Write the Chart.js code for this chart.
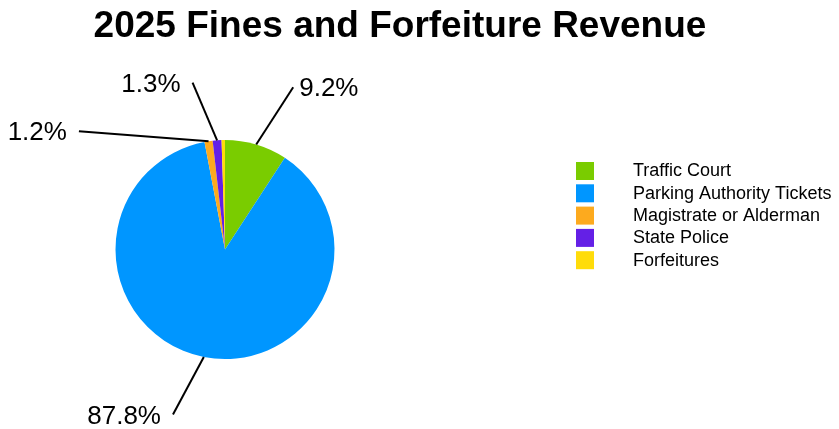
<!DOCTYPE html>
<html>
<head>
<meta charset="utf-8">
<title>2025 Fines and Forfeiture Revenue</title>
<script src="https://cdn.jsdelivr.net/npm/chart.js@4"></script>
<style>
  html, body { margin: 0; padding: 0; background: #fff; }
  #wrap { width: 839px; height: 429px; position: relative; }
</style>
</head>
<body>
<div id="wrap"><canvas id="revenueChart" width="839" height="429"></canvas></div>
<script>
// ---------------- DATA ----------------

const sources = [
    "Traffic Court",
    "Parking Authority Tickets",
    "Magistrate or Alderman",
    "State Police",
    "Forfeitures"
];

const shares = [9.2, 87.8, 1.2, 1.3, 0.5];

const sliceColors = ["#7acc00", "#0096ff", "#fdaa1e", "#6420e6", "#ffdc0a"];

const chartTitle = "2025 Fines and Forfeiture Revenue";

// where each outside label sits: angle (deg, clockwise from top) and distance from centre
const labelSpots = [
    { angle: 22.8, dist: 176 },
    { angle: 197.5, dist: 173 },
    { angle: 309, dist: 188 },
    { angle: 349, dist: 170 },
    null
];

const FONT = "'Liberation Sans', Arial, sans-serif";

// ---------------- PLUGINS ----------------

const titlePlugin = {
    id: "plainTitle",
    afterDraw(chart) {
        const ctx = chart.ctx;
        ctx.save();
        ctx.fillStyle = "#000";
        ctx.font = "bold 37px " + FONT;
        ctx.textAlign = "center";
        ctx.textBaseline = "alphabetic";
        ctx.fillText(chartTitle, 400, 37);
        ctx.restore();
    }
};

const sideLegend = {
    id: "sideLegend",
    afterDraw(chart) {
        const ctx = chart.ctx;
        ctx.save();
        ctx.font = "18px " + FONT;
        ctx.textBaseline = "middle";
        ctx.textAlign = "left";
        sources.forEach((name, i) => {
            const y = 162 + i * 22.3;
            ctx.fillStyle = sliceColors[i];
            ctx.fillRect(576, y, 18, 18);
            ctx.fillStyle = "#000";
            ctx.fillText(name, 633, y + 9.5);
        });
        ctx.restore();
    }
};

const leaderLabels = {
    id: "leaderLabels",
    afterDatasetsDraw(chart) {
        const ctx = chart.ctx;
        const arcs = chart.getDatasetMeta(0).data;
        ctx.save();
        ctx.strokeStyle = "#000";
        ctx.lineWidth = 2;
        ctx.fillStyle = "#000";
        ctx.font = "26px " + FONT;
        ctx.textBaseline = "middle";
        arcs.forEach((arc, i) => {
            const spot = labelSpots[i];
            if (!spot) return;
            const mid = (arc.startAngle + arc.endAngle) / 2;
            const sx = arc.x + Math.cos(mid) * arc.outerRadius;
            const sy = arc.y + Math.sin(mid) * arc.outerRadius;
            const a = (spot.angle - 90) * Math.PI / 180;
            const ex = arc.x + Math.cos(a) * spot.dist;
            const ey = arc.y + Math.sin(a) * spot.dist;
            ctx.beginPath();
            ctx.moveTo(sx, sy);
            ctx.lineTo(ex, ey);
            ctx.stroke();
            const text = shares[i].toFixed(1) + "%";
            if (ex >= arc.x) {
                ctx.textAlign = "left";
                ctx.fillText(text, ex + 6, ey + 2);
            } else {
                ctx.textAlign = "right";
                ctx.fillText(text, ex - 12, ey + 2);
            }
        });
        ctx.restore();
    }
};

// ---------------- PIE CHART ----------------

const revenueCtx =
document.getElementById("revenueChart");

new Chart(revenueCtx, {

    type: "pie",

    data: {
        labels: sources,
        datasets: [{
            data: shares,
            backgroundColor: sliceColors,
            borderWidth: 0
        }]
    },

    options: {
        responsive: false,
        animation: false,
        layout: {
            padding: { left: 115.5, right: 504.5, top: 140, bottom: 70 }
        },
        plugins: {
            legend: { display: false },
            title: { display: false },
            tooltip: { enabled: false }
        }
    },

    plugins: [leaderLabels, titlePlugin, sideLegend]
});
</script>
</body>
</html>
